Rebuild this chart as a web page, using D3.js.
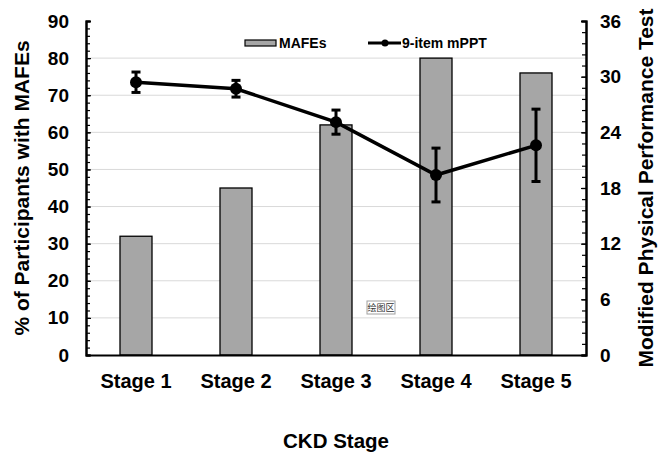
<!DOCTYPE html>
<html><head><meta charset="utf-8">
<script src="https://cdn.jsdelivr.net/npm/d3@7"></script>
<style>body{margin:0;background:#fff}svg{display:block}text{font-family:"Liberation Sans",Arial,sans-serif;font-weight:bold}</style>
</head><body>
<svg id="c" width="662" height="454"></svg>
<script>
const categories = ["Stage 1","Stage 2","Stage 3","Stage 4","Stage 5"];
const mafes = [32,45,62,80,76];
const mppt = [29.4,28.7,25.1,19.4,22.6];
const mpptErr = [1.1,0.9,1.3,2.9,3.9];
const leftTicks = [0,10,20,30,40,50,60,70,80,90];
const rightTicks = [0,6,12,18,24,30,36];
const seriesNames = ["MAFEs","9-item mPPT"];
const titles = {left:"% of Participants with MAFEs", right:"Modified Physical Performance Test", x:"CKD Stage"};

const svg = d3.select("#c");
const L=86,R=586,T=21,B=355;
const x = d3.scaleBand().domain(categories).range([L,R]).paddingInner(0.68).paddingOuter(0.34);
const yL = d3.scaleLinear().domain([0,90]).range([B,T]);
const yR = d3.scaleLinear().domain([0,36]).range([B,T]);

// gridlines
svg.append("g").selectAll("line").data(leftTicks.filter(d=>d>0&&d<90)).join("line")
  .attr("x1",L).attr("x2",R).attr("y1",d=>yL(d)).attr("y2",d=>yL(d))
  .attr("stroke","#d9d9d9").attr("stroke-width",1);

// bars
svg.append("g").selectAll("rect").data(mafes).join("rect")
  .attr("x",(d,i)=>x(categories[i])).attr("width",x.bandwidth())
  .attr("y",d=>yL(d)).attr("height",d=>B-yL(d))
  .attr("fill","#a6a6a6").attr("stroke","#000").attr("stroke-width",1.3);

// axes
const fs=19;
const minorL = svg.append("g").attr("transform",`translate(${L},0)`)
  .call(d3.axisLeft(yL).tickValues(d3.range(0,91,2)).tickSize(-4).tickFormat(""));
const axL = svg.append("g").attr("transform",`translate(${L},0)`)
  .call(d3.axisLeft(yL).tickValues(leftTicks).tickSize(-5).tickPadding(17));
const minorR = svg.append("g").attr("transform",`translate(${R},0)`)
  .call(d3.axisRight(yR).tickValues(d3.range(0,31).map(v=>v*1.2)).tickSize(-4).tickFormat(""));
const axR = svg.append("g").attr("transform",`translate(${R},0)`)
  .call(d3.axisRight(yR).tickValues(rightTicks).tickSize(-5).tickPadding(14));
[minorL,axL,minorR,axR].forEach(g=>{
  g.select(".domain").attr("stroke","#000").attr("stroke-width",2);
  g.selectAll(".tick line").attr("stroke","#000").attr("stroke-width",1.2);
  g.selectAll("text").attr("font-size",fs).attr("fill","#000")
   .style("font-family","'Liberation Sans',Arial,sans-serif").style("font-weight","bold");
});
const axB = svg.append("g").attr("transform",`translate(0,${B})`)
  .call(d3.axisBottom(x).tickSize(0).tickPadding(19));
axB.select(".domain").attr("stroke","#000").attr("stroke-width",2);
axB.selectAll("text").attr("font-size",20).attr("fill","#000")
  .style("font-family","'Liberation Sans',Arial,sans-serif").style("font-weight","bold");

// line series
const cx = i=>x(categories[i])+x.bandwidth()/2;
const line = d3.line().x((d,i)=>cx(i)).y(d=>yR(d));
svg.append("path").datum(mppt).attr("d",line).attr("fill","none").attr("stroke","#000").attr("stroke-width",3.5);
const eb = svg.append("g").selectAll("g").data(mppt).join("g");
eb.append("line").attr("x1",(d,i)=>cx(i)).attr("x2",(d,i)=>cx(i))
  .attr("y1",(d,i)=>yR(d+mpptErr[i])).attr("y2",(d,i)=>yR(d-mpptErr[i]))
  .attr("stroke","#000").attr("stroke-width",3);
eb.append("line").attr("x1",(d,i)=>cx(i)-4.5).attr("x2",(d,i)=>cx(i)+4.5)
  .attr("y1",(d,i)=>yR(d+mpptErr[i])).attr("y2",(d,i)=>yR(d+mpptErr[i]))
  .attr("stroke","#000").attr("stroke-width",3);
eb.append("line").attr("x1",(d,i)=>cx(i)-4.5).attr("x2",(d,i)=>cx(i)+4.5)
  .attr("y1",(d,i)=>yR(d-mpptErr[i])).attr("y2",(d,i)=>yR(d-mpptErr[i]))
  .attr("stroke","#000").attr("stroke-width",3);
eb.append("circle").attr("cx",(d,i)=>cx(i)).attr("cy",d=>yR(d)).attr("r",6).attr("fill","#000");

// legend
const lg = svg.append("g");
lg.append("rect").attr("x",245).attr("y",40).attr("width",31).attr("height",6)
  .attr("fill","#a6a6a6").attr("stroke","#000").attr("stroke-width",1.2);
lg.append("text").attr("x",279).attr("y",48).attr("font-size",14).text(seriesNames[0]);
lg.append("line").attr("x1",368).attr("x2",401).attr("y1",43).attr("y2",43).attr("stroke","#000").attr("stroke-width",3);
lg.append("circle").attr("cx",385).attr("cy",43).attr("r",3.5).attr("fill","#000");
lg.append("text").attr("x",402).attr("y",48).attr("font-size",14).text(seriesNames[1]);

// titles
svg.append("text").attr("transform",`translate(29,${(T+B)/2}) rotate(-90)`).attr("text-anchor","middle")
  .attr("font-size",21).text(titles.left);
svg.append("text").attr("transform",`translate(653,${(T+B)/2}) rotate(-90)`).attr("text-anchor","middle")
  .attr("font-size",21).text(titles.right);
svg.append("text").attr("x",(L+R)/2).attr("y",448).attr("text-anchor","middle").attr("font-size",20.5).text(titles.x);

// plot-area tooltip label
const tip = svg.append("g");
tip.append("rect").attr("x",367).attr("y",301).attr("width",28).attr("height",13)
  .attr("fill","#fff").attr("stroke","#a0a0a0").attr("stroke-width",1);
tip.append("text").attr("x",381).attr("y",311).attr("text-anchor","middle").attr("font-size",9)
  .style("font-family","'Noto Sans CJK SC',sans-serif").style("font-weight","normal").attr("fill","#333").text("绘图区");
</script>
</body></html>
